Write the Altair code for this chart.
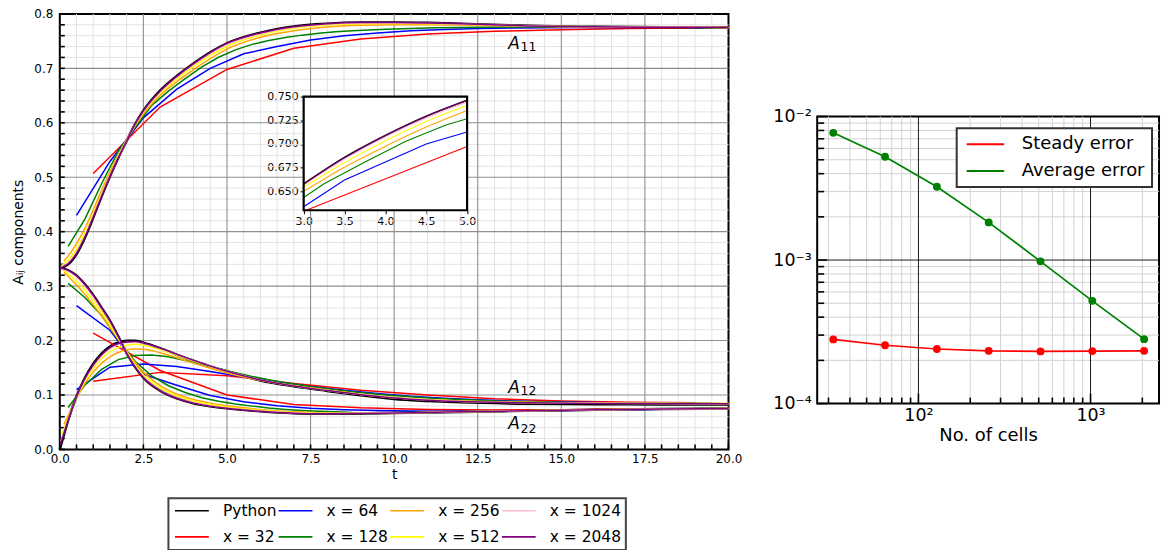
import altair as alt
import pandas as pd

FONT = "DejaVu Sans"

# ---------------- A_ij(t) histories, one run per mesh ----------------
FINE_TAIL = [0.25, 0.5, 0.75, 1.0, 1.25, 1.5, 1.75, 2.0, 2.25, 2.5, 3.0, 3.5, 4.0, 4.5,
             5.0, 6.0, 7.0, 8.0, 9.0, 10.0, 11.0, 12.0, 14.0, 16.0, 18.0, 20.0]

T_PY = [0.0] + FINE_TAIL
PY_A11 = [0.333, 0.340, 0.359, 0.389, 0.426, 0.465, 0.502, 0.536, 0.567, 0.597, 0.622, 0.659, 0.686,
          0.709, 0.7295, 0.746, 0.7655, 0.777, 0.782, 0.784, 0.7842, 0.7835, 0.782, 0.778, 0.7762, 0.7755, 0.7752]
PY_A12 = [0.0, 0.054, 0.097, 0.131, 0.157, 0.176, 0.189, 0.1965, 0.1995, 0.1995, 0.196, 0.186, 0.174,
          0.163, 0.1525, 0.1432, 0.1267, 0.116, 0.1075, 0.0995, 0.0925, 0.089, 0.0865, 0.084, 0.0832, 0.0828, 0.0826]
PY_A22 = [0.333, 0.329, 0.319, 0.303, 0.283, 0.260, 0.236, 0.207, 0.177, 0.152, 0.132, 0.108, 0.094,
          0.085, 0.0795, 0.0755, 0.070, 0.0665, 0.0655, 0.066, 0.067, 0.068, 0.069, 0.071, 0.0728, 0.0742, 0.0752]

T_2048 = [0.0156] + FINE_TAIL
X2048_A11 = [0.3335, 0.341, 0.360, 0.390, 0.427, 0.465, 0.502, 0.536, 0.567, 0.597, 0.622, 0.658, 0.6853,
             0.7087, 0.729, 0.7458, 0.765, 0.7765, 0.782, 0.784, 0.784, 0.7835, 0.782, 0.778, 0.7762, 0.7755, 0.7752]
X2048_A12 = [0.008, 0.054, 0.0965, 0.130, 0.155, 0.174, 0.187, 0.1945, 0.1975, 0.198, 0.1955, 0.186, 0.1745,
             0.1635, 0.153, 0.1435, 0.1275, 0.1165, 0.108, 0.1005, 0.0945, 0.0905, 0.088, 0.0855, 0.0845, 0.084, 0.0838]
X2048_A22 = [0.333, 0.329, 0.319, 0.303, 0.283, 0.260, 0.236, 0.207, 0.177, 0.152, 0.132, 0.108, 0.094,
             0.085, 0.0795, 0.0755, 0.070, 0.0665, 0.0655, 0.066, 0.067, 0.068, 0.069, 0.071, 0.0728, 0.0742, 0.0752]

T_1024 = [0.0312] + FINE_TAIL
X1024_A11 = [0.335, 0.343, 0.362, 0.392, 0.429, 0.467, 0.503, 0.537, 0.5675, 0.5965, 0.621, 0.6565, 0.684,
             0.7075, 0.7275, 0.744, 0.7635, 0.7755, 0.7812, 0.7832, 0.7835, 0.783, 0.7815, 0.778, 0.7762, 0.7755, 0.7752]
X1024_A12 = [0.015, 0.055, 0.096, 0.129, 0.153, 0.172, 0.185, 0.193, 0.1965, 0.197, 0.1945, 0.1855, 0.1742,
             0.1632, 0.1528, 0.1434, 0.1275, 0.1166, 0.1082, 0.1007, 0.0947, 0.0907, 0.0882, 0.0856, 0.0846, 0.0841, 0.0839]
X1024_A22 = [0.332, 0.327, 0.316, 0.300, 0.280, 0.258, 0.234, 0.206, 0.177, 0.153, 0.133, 0.109, 0.095,
             0.086, 0.080, 0.076, 0.0705, 0.067, 0.0658, 0.0662, 0.067, 0.068, 0.069, 0.071, 0.0728, 0.0742, 0.0752]

T_512 = [0.0625] + FINE_TAIL
X512_A11 = [0.338, 0.348, 0.368, 0.397, 0.432, 0.469, 0.505, 0.538, 0.568, 0.596, 0.620, 0.6542, 0.6804,
            0.7035, 0.7238, 0.7406, 0.761, 0.7735, 0.7795, 0.782, 0.7825, 0.782, 0.781, 0.778, 0.7762, 0.7755, 0.7752]
X512_A12 = [0.028, 0.057, 0.095, 0.126, 0.149, 0.167, 0.179, 0.1875, 0.1915, 0.193, 0.1915, 0.1835, 0.1728,
            0.1625, 0.1522, 0.143, 0.1275, 0.117, 0.1085, 0.101, 0.095, 0.091, 0.0885, 0.086, 0.085, 0.0845, 0.0842]
X512_A22 = [0.331, 0.322, 0.309, 0.293, 0.273, 0.252, 0.229, 0.204, 0.179, 0.156, 0.137, 0.113, 0.098,
            0.0885, 0.0825, 0.078, 0.072, 0.068, 0.0665, 0.0665, 0.067, 0.068, 0.069, 0.071, 0.0728, 0.0742, 0.0752]

T_256 = [0.125] + FINE_TAIL
X256_A11 = [0.346, 0.355, 0.378, 0.406, 0.440, 0.476, 0.510, 0.541, 0.569, 0.594, 0.616, 0.650, 0.6755,
            0.6975, 0.7178, 0.7353, 0.757, 0.769, 0.776, 0.779, 0.780, 0.780, 0.7795, 0.7775, 0.776, 0.7755, 0.7752]
X256_A12 = [0.046, 0.062, 0.094, 0.121, 0.142, 0.158, 0.170, 0.178, 0.183, 0.1845, 0.184, 0.1775, 0.1685,
            0.1585, 0.149, 0.1405, 0.1268, 0.1172, 0.109, 0.1015, 0.0955, 0.0915, 0.089, 0.0865, 0.0852, 0.0846, 0.0842]
X256_A22 = [0.326, 0.318, 0.302, 0.285, 0.266, 0.245, 0.224, 0.202, 0.180, 0.160, 0.142, 0.117, 0.1015,
            0.0915, 0.085, 0.080, 0.0735, 0.069, 0.067, 0.0665, 0.067, 0.068, 0.069, 0.071, 0.0728, 0.0742, 0.0752]

T_128 = [0.25, 0.75, 1.25, 1.75, 2.25, 2.75, 3.25, 3.75, 4.25, 4.75, 5.25, 5.75, 6.25, 6.75, 7.25,
         7.75, 8.25, 8.75, 9.75, 11.25, 13.25, 15.25, 17.25, 19.75]
X128_A11 = [0.373, 0.423, 0.488, 0.548, 0.591, 0.632, 0.658, 0.681, 0.7028, 0.7203, 0.734, 0.744, 0.751,
            0.7565, 0.761, 0.7645, 0.767, 0.769, 0.772, 0.7745, 0.776, 0.776, 0.7755, 0.7752]
X128_A12 = [0.077, 0.118, 0.147, 0.165, 0.1725, 0.1735, 0.170, 0.1635, 0.156, 0.1485, 0.141, 0.134, 0.128,
            0.1225, 0.118, 0.1135, 0.1095, 0.106, 0.100, 0.0935, 0.0885, 0.086, 0.0848, 0.0842]
X128_A22 = [0.305, 0.279, 0.246, 0.201, 0.162, 0.135, 0.117, 0.1045, 0.095, 0.0885, 0.0835, 0.0795, 0.076,
            0.0735, 0.0715, 0.070, 0.069, 0.068, 0.0675, 0.0685, 0.0705, 0.0722, 0.0737, 0.0752]

T_64 = [0.5, 1.5, 2.5, 3.5, 4.5, 5.5, 6.5, 7.5, 8.5, 9.5, 10.5, 11.5, 12.5, 13.5, 14.5, 15.5, 16.5,
        17.5, 18.5, 19.5]
X64_A11 = [0.430, 0.529, 0.609, 0.6619, 0.700, 0.7267, 0.740, 0.752, 0.760, 0.765, 0.769, 0.7715, 0.773,
           0.774, 0.7745, 0.775, 0.775, 0.775, 0.775, 0.775]
X64_A12 = [0.110, 0.151, 0.157, 0.1525, 0.143, 0.133, 0.124, 0.1155, 0.1085, 0.1025, 0.0975, 0.094, 0.091,
           0.089, 0.0875, 0.0865, 0.0858, 0.0852, 0.0848, 0.0845]
X64_A22 = [0.264, 0.219, 0.138, 0.118, 0.099, 0.0875, 0.080, 0.0755, 0.073, 0.0715, 0.0705, 0.070, 0.070,
           0.0705, 0.071, 0.0718, 0.0725, 0.0732, 0.074, 0.0745]

T_32 = [1.0, 3.0, 5.0, 7.0, 9.0, 11.0, 13.0, 15.0, 17.0, 19.0]
X32_A11 = [0.507, 0.629, 0.698, 0.737, 0.754, 0.763, 0.768, 0.771, 0.773, 0.774]
X32_A12 = [0.125, 0.1415, 0.1355, 0.121, 0.1085, 0.100, 0.093, 0.0888, 0.0865, 0.0855]
X32_A22 = [0.2137, 0.145, 0.100, 0.0824, 0.0763, 0.0735, 0.0725, 0.073, 0.074, 0.0748]

# zoomed view of A11 between t = 3 and t = 5
INSET_T = [3.0, 3.5, 4.0, 4.5, 5.0]
INSET_PY = [0.6578, 0.6858, 0.709, 0.7293, 0.7462]
INSET_2048 = [0.6573, 0.6853, 0.7087, 0.729, 0.7458]
INSET_1024 = [0.6565, 0.684, 0.7075, 0.7275, 0.744]
INSET_512 = [0.6542, 0.6804, 0.7035, 0.7238, 0.7406]
INSET_256 = [0.650, 0.6755, 0.6975, 0.7178, 0.7353]
INSET_T_128 = [3.0, 3.25, 3.75, 4.25, 4.75, 5.0]
INSET_128 = [0.6435, 0.658, 0.681, 0.7028, 0.7203, 0.7266]
INSET_T_64 = [3.0, 3.5, 4.5, 5.0]
INSET_64 = [0.6336, 0.6619, 0.700, 0.7126]
INSET_T_32 = [3.0, 5.0]
INSET_32 = [0.629, 0.6972]

# ---------------- mesh convergence ----------------
CELLS = [32, 64, 128, 256, 512, 1024, 2048]
STEADY_ERROR = [2.80e-4, 2.55e-4, 2.40e-4, 2.33e-4, 2.31e-4, 2.32e-4, 2.33e-4]
AVERAGE_ERROR = [7.7e-3, 5.25e-3, 3.24e-3, 1.83e-3, 9.8e-4, 5.2e-4, 2.81e-4]

# ---------------- series styling ----------------
RUNS = [
    # name, colour, times, A11, A12, A22, smooth, width, inset t, inset A11
    ("Python", "black", T_PY, PY_A11, PY_A12, PY_A22, True, 2.6, INSET_T, INSET_PY),
    ("x = 32", "red", T_32, X32_A11, X32_A12, X32_A22, False, 1.5, INSET_T_32, INSET_32),
    ("x = 64", "blue", T_64, X64_A11, X64_A12, X64_A22, False, 1.5, INSET_T_64, INSET_64),
    ("x = 128", "green", T_128, X128_A11, X128_A12, X128_A22, False, 1.5, INSET_T_128, INSET_128),
    ("x = 256", "orange", T_256, X256_A11, X256_A12, X256_A22, True, 1.5, INSET_T, INSET_256),
    ("x = 512", "yellow", T_512, X512_A11, X512_A12, X512_A22, True, 1.5, INSET_T, INSET_512),
    ("x = 1024", "pink", T_1024, X1024_A11, X1024_A12, X1024_A22, True, 1.5, INSET_T, INSET_1024),
    ("x = 2048", "purple", T_2048, X2048_A11, X2048_A12, X2048_A22, True, 1.5, INSET_T, INSET_2048),
]
LEGEND_ORDER = [r[0] for r in RUNS]
COLOR_OF = {r[0]: r[1] for r in RUNS}

X_TICKS = [0.0, 2.5, 5.0, 7.5, 10.0, 12.5, 15.0, 17.5, 20.0]
Y_TICKS = [0.0, 0.1, 0.2, 0.3, 0.4, 0.5, 0.6, 0.7, 0.8]
X_MINOR = [0.5 * k for k in range(41)]
Y_MINOR = [0.02 * k for k in range(41)]

# component labels (italic A + subscript)
LABEL_T = [13.41, 13.41, 13.41]
LABEL_A = [0.7357, 0.1044, 0.0372]
SUB_T = [13.78, 13.78, 13.78]
SUB_A = [0.7313, 0.1007, 0.0305]
SUB_TEXT = ["11", "12", "22"]

W, H = 671, 437

rows = []
for name, col, ts, a11, a12, a22, smooth, lw, it, iv in RUNS:
    for comp, vals in (("A11", a11), ("A12", a12), ("A22", a22)):
        for t, v in zip(ts, vals):
            rows.append({"run": name, "comp": comp, "t": t, "a": v})
hist = pd.DataFrame(rows)

x_main = alt.X(
    "t:Q",
    scale=alt.Scale(domain=[0, 20], nice=False, zero=False),
    axis=alt.Axis(values=X_TICKS, format=".1f", title="t", grid=False, ticks=False, domain=False,
                  labelFontSize=12, labelPadding=4, labelFlush=False, labelOverlap=False,
                  titleFontSize=14, titlePadding=3),
)
y_main = alt.Y(
    "a:Q",
    scale=alt.Scale(domain=[0, 0.8], nice=False, zero=False),
    axis=alt.Axis(values=Y_TICKS, format=".1f", title="A\u1d62\u2c7c components", grid=False, ticks=False,
                  domain=False, labelFontSize=12, labelPadding=7, labelFlush=False, labelOverlap=False,
                  titleFontSize=14, titlePadding=8),
)

# legend line samples: a short, wide path so the rows stay text-high
main_legend = alt.Legend(
    orient="none", legendX=109, legendY=486, columns=4, title=None,
    symbolType="M-1,0L5,0", symbolSize=128, symbolStrokeWidth=1.6, labelFontSize=15.5,
    labelOffset=34.7, columnPadding=-11, rowPadding=9.5, padding=4.5, strokeColor="#444444",
    fillColor="white", labelColor="black",
)
color_scale = alt.Scale(domain=LEGEND_ORDER, range=[COLOR_OF[n] for n in LEGEND_ORDER])

xg_minor = pd.DataFrame({"t": [v for v in X_MINOR if v % 2.5 != 0]})
yg_minor = pd.DataFrame({"a": [round(v, 2) for v in Y_MINOR if round(v * 10, 6) % 1 != 0]})
xg_major = pd.DataFrame({"t": X_TICKS[1:-1]})
yg_major = pd.DataFrame({"a": Y_TICKS[1:-1]})

main_layers = [
    alt.Chart(xg_minor).mark_rule(color="#e3e3e3", strokeWidth=1).encode(x=x_main),
    alt.Chart(yg_minor).mark_rule(color="#e3e3e3", strokeWidth=1).encode(y=y_main),
    alt.Chart(xg_major).mark_rule(color="#8f8f8f", strokeWidth=1.1).encode(x=x_main),
    alt.Chart(yg_major).mark_rule(color="#8f8f8f", strokeWidth=1.1).encode(y=y_main),
    alt.Chart(pd.DataFrame({"a": Y_MINOR})).mark_rule(color="black", strokeWidth=1.6).encode(
        y=y_main, x=alt.value(0), x2=alt.value(5)),
    alt.Chart(pd.DataFrame({"t": X_MINOR})).mark_rule(color="black", strokeWidth=1.6).encode(
        x=x_main, y=alt.value(H), y2=alt.value(H - 5)),
]
for name, col, ts, a11, a12, a22, smooth, lw, it, iv in RUNS:
    main_layers.append(
        alt.Chart(hist[hist["run"] == name])
        .mark_line(strokeWidth=lw, interpolate="monotone" if smooth else "linear")
        .encode(x=x_main, y=y_main, detail="comp:N",
                color=alt.Color("run:N", scale=color_scale, legend=main_legend))
    )

lab = pd.DataFrame({"t": LABEL_T, "a": LABEL_A, "s": ["A", "A", "A"]})
sub = pd.DataFrame({"t": SUB_T, "a": SUB_A, "s": SUB_TEXT})
main_layers.append(
    alt.Chart(lab).mark_text(font=FONT, fontSize=17, fontStyle="italic", align="left",
                             baseline="alphabetic", color="black").encode(x=x_main, y=y_main, text="s:N"))
main_layers.append(
    alt.Chart(sub).mark_text(font=FONT, fontSize=12.5, align="left", baseline="alphabetic",
                             color="black").encode(x=x_main, y=y_main, text="s:N"))
main_layer = alt.layer(*main_layers)

# ---------------- inset ----------------
x_in = alt.X(
    "t:Q",
    scale=alt.Scale(domain=[3, 5], range=[244.7, 408.7], nice=False, zero=False),
    axis=alt.Axis(orient="bottom", offset=-240, values=[3.0, 3.5, 4.0, 4.5, 5.0], format=".1f", title=None,
                  grid=False, domain=False, tickSize=3.5, tickColor="black", tickWidth=1,
                  labelFontSize=11, labelPadding=2, labelFlush=False, labelOverlap=False),
)
y_in = alt.Y(
    "a:Q",
    scale=alt.Scale(domain=[0.63, 0.75], range=[197, 83], nice=False, zero=False),
    axis=alt.Axis(orient="left", offset=-244.7, values=[0.65, 0.675, 0.7, 0.725, 0.75], format=".3f",
                  title=None, grid=False, domain=False, tickSize=3.5, tickColor="black", tickWidth=1,
                  labelFontSize=11, labelPadding=2, labelFlush=False, labelOverlap=False),
)
box = pd.DataFrame({"t": [3.0], "t2": [5.0], "a": [0.63], "a2": [0.75]})
inset_layers = [
    alt.Chart(box).mark_rect(fill="white", stroke="white").encode(x=x_in, x2="t2:Q", y=y_in, y2="a2:Q")
]
for name, col, ts, a11, a12, a22, smooth, lw, it, iv in RUNS:
    inset_layers.append(
        alt.Chart(pd.DataFrame({"t": it, "a": iv}))
        .mark_line(color=col, strokeWidth=1.6 if name == "Python" else 1.1,
                   interpolate="monotone" if smooth else "linear")
        .encode(x=x_in, y=y_in)
    )
inset_layers.append(
    alt.Chart(box).mark_rect(fill="transparent", stroke="black", strokeWidth=2.2)
    .encode(x=x_in, x2="t2:Q", y=y_in, y2="a2:Q")
)
inset_layer = alt.layer(*inset_layers)

left = (
    alt.layer(main_layer, inset_layer)
    .resolve_scale(x="independent", y="independent")
    .properties(width=W, height=H)
)

# ---------------- convergence panel ----------------
RW, RH = 343, 288
SPACER_H = 103
err = pd.DataFrame({
    "cells": CELLS + CELLS,
    "err": STEADY_ERROR + AVERAGE_ERROR,
    "kind": ["Steady error"] * len(CELLS) + ["Average error"] * len(CELLS),
})
LOG_X_MINOR = [30, 40, 50, 60, 70, 80, 90, 200, 300, 400, 500, 600, 700, 800, 900, 2000]
LOG_X_MAJOR = [100, 1000]
LOG_Y_MINOR = [2e-4, 3e-4, 4e-4, 5e-4, 6e-4, 7e-4, 8e-4, 9e-4,
               2e-3, 3e-3, 4e-3, 5e-3, 6e-3, 7e-3, 8e-3, 9e-3]
LOG_Y_MAJOR = [1e-4, 1e-3, 1e-2]

x_r = alt.X(
    "cells:Q",
    scale=alt.Scale(type="log", domain=[25.8, 2500], nice=False),
    axis=alt.Axis(values=LOG_X_MAJOR, labelExpr="datum.value > 500 ? '10\u00b3' : '10\u00b2'",
                  title="No. of cells", grid=False, ticks=False, domain=False, labelFontSize=17.5,
                  labelPadding=3, labelFlush=False, labelOverlap=False, titleFontSize=18, titlePadding=3),
)
y_r = alt.Y(
    "err:Q",
    scale=alt.Scale(type="log", domain=[1e-4, 1e-2], nice=False),
    axis=alt.Axis(values=LOG_Y_MAJOR,
                  labelExpr="datum.value > 0.005 ? '10\u207b\u00b2' : (datum.value > 0.0005 ? '10\u207b\u00b3' : '10\u207b\u2074')",
                  title=None, grid=False, ticks=False, domain=False, labelFontSize=17.5, labelPadding=6,
                  labelFlush=False, labelOverlap=False),
)
err_legend = alt.Legend(
    orient="none", legendX=140, legendY=SPACER_H + 11.7, title=None, symbolType="M-1,0L5.27,0",
    symbolSize=144, symbolStrokeWidth=2, labelFontSize=18, labelOffset=40.3, rowPadding=9, padding=7,
    strokeColor="#333333", fillColor="white", labelColor="black",
)
err_scale = alt.Scale(domain=["Steady error", "Average error"], range=["red", "green"])

right_layers = [
    alt.Chart(pd.DataFrame({"cells": LOG_X_MINOR})).mark_rule(color="#d2d2d2", strokeWidth=1).encode(x=x_r),
    alt.Chart(pd.DataFrame({"err": LOG_Y_MINOR})).mark_rule(color="#d2d2d2", strokeWidth=1).encode(y=y_r),
    alt.Chart(pd.DataFrame({"cells": LOG_X_MAJOR})).mark_rule(color="black", strokeWidth=0.9).encode(x=x_r),
    alt.Chart(pd.DataFrame({"err": [1e-3]})).mark_rule(color="black", strokeWidth=0.9).encode(y=y_r),
    alt.Chart(pd.DataFrame({"err": LOG_Y_MINOR})).mark_rule(color="black", strokeWidth=1.6).encode(
        y=y_r, x=alt.value(0), x2=alt.value(7)),
    alt.Chart(pd.DataFrame({"err": LOG_Y_MAJOR})).mark_rule(color="black", strokeWidth=1.6).encode(
        y=y_r, x=alt.value(0), x2=alt.value(10)),
    alt.Chart(pd.DataFrame({"cells": LOG_X_MINOR})).mark_rule(color="black", strokeWidth=1.6).encode(
        x=x_r, y=alt.value(RH), y2=alt.value(RH - 6)),
    alt.Chart(pd.DataFrame({"cells": LOG_X_MAJOR})).mark_rule(color="black", strokeWidth=1.6).encode(
        x=x_r, y=alt.value(RH), y2=alt.value(RH - 10)),
    alt.Chart(err).mark_line(strokeWidth=1.7).encode(
        x=x_r, y=y_r, color=alt.Color("kind:N", scale=err_scale, legend=err_legend)),
]
for kind, col in (("Steady error", "red"), ("Average error", "green")):
    right_layers.append(
        alt.Chart(err[err["kind"] == kind]).mark_circle(size=62, opacity=1, color=col).encode(x=x_r, y=y_r)
    )
right = alt.layer(*right_layers).properties(width=RW, height=RH)

spacer = alt.Chart(pd.DataFrame({"v": [0]}), view=alt.ViewBackground(stroke="transparent")).mark_point(
    opacity=0).encode(x=alt.value(0), y=alt.value(0)).properties(width=RW, height=SPACER_H)

chart = (
    alt.hconcat(left, alt.vconcat(spacer, right, spacing=0, bounds="flush"), spacing=89, bounds="flush")
    .resolve_scale(color="independent")
    .resolve_legend(color="independent")
    .properties(padding={"left": 10, "top": 6, "right": 1, "bottom": 0})
    .configure(font=FONT)
    .configure_view(stroke="black", strokeWidth=2)
    .configure_axis(labelFont=FONT, titleFont=FONT, labelColor="black", titleColor="black",
                    titleFontWeight="normal")
    .configure_legend(strokeWidth=2, labelFont=FONT)
)

chart.save("out.html", embed_options={"renderer": "svg", "actions": False})
